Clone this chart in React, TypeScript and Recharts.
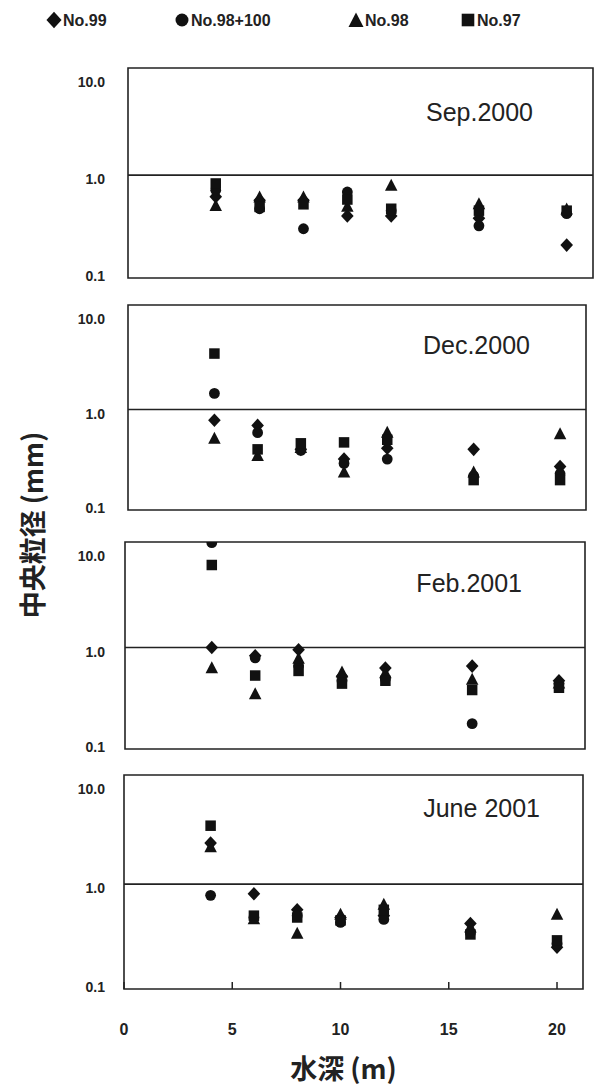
import React from 'react';
import { ScatterChart, Scatter, XAxis, YAxis, ReferenceLine, ReferenceArea, Legend } from 'recharts';

const DEPTHS = [4, 6, 8, 10, 12, 16, 20];
const STATIONS = ['No.99', 'No.98+100', 'No.98', 'No.97'];
const SHAPES = ['diamond', 'circle', 'triangle', 'square'];
const PANEL_LABELS = ['Sep.2000', 'Dec.2000', 'Feb.2001', 'June 2001'];
const Y_TICKS = [0.1, 1, 10];
const X_TICKS = [0, 5, 10, 15, 20];
const X_TITLE = '水深 (m)';
const Y_TITLE = '中央粒径 (mm)';

// Sep.2000
const sepNo99 = [0.6, 0.55, 0.55, 0.38, 0.38, 0.36, 0.19];
const sepNo98_100 = [0.7, 0.45, 0.28, 0.67, 0.43, 0.3, 0.4];
const sepNo98 = [0.49, 0.6, 0.6, 0.48, 0.79, 0.51, 0.45];
const sepNo97 = [0.82, 0.47, 0.5, 0.56, 0.45, 0.43, 0.43];

// Dec.2000
const decNo99 = [0.77, 0.68, 0.38, 0.3, 0.39, 0.38, 0.25];
const decNo98_100 = [1.48, 0.57, 0.37, 0.27, 0.3, 0.2, 0.21];
const decNo98 = [0.5, 0.33, 0.4, 0.22, 0.58, 0.22, 0.56];
const decNo97 = [3.9, 0.38, 0.44, 0.45, 0.48, 0.18, 0.18];

// Feb.2001
const febNo99 = [1.0, 0.82, 0.95, 0.5, 0.61, 0.64, 0.45];
const febNo98_100 = [12.5, 0.78, 0.65, 0.45, 0.47, 0.16, 0.42];
const febNo98 = [0.62, 0.33, 0.78, 0.56, 0.55, 0.47, 0.43];
const febNo97 = [7.3, 0.51, 0.57, 0.42, 0.45, 0.36, 0.38];

// June 2001
const junNo99 = [2.6, 0.8, 0.55, 0.46, 0.48, 0.4, 0.23];
const junNo98_100 = [0.77, 0.46, 0.48, 0.41, 0.44, 0.32, 0.25];
const junNo98 = [2.4, 0.45, 0.32, 0.5, 0.63, 0.37, 0.5];
const junNo97 = [3.9, 0.48, 0.46, 0.43, 0.55, 0.31, 0.27];

const PANEL_SERIES = [
  [sepNo99, sepNo98_100, sepNo98, sepNo97],
  [decNo99, decNo98_100, decNo98, decNo97],
  [febNo99, febNo98_100, febNo98, febNo97],
  [junNo99, junNo98_100, junNo98, junNo97],
];

const X_DOMAIN = [0, 21.2];
const Y_DOMAIN = [0.087, 12.7];
const INK = '#111';
const LATIN = '"Liberation Sans", Arial, sans-serif';
const CJK = '"Noto Sans CJK JP", "Noto Sans CJK SC", sans-serif';

const LAYOUT = [
  { top: 0, height: 290, margin: { top: 68, right: 1, bottom: 12, left: 0 }, yWidth: 128, xHeight: 0 },
  { top: 290, height: 232, margin: { top: 15, right: 8, bottom: 12, left: 0 }, yWidth: 128, xHeight: 0 },
  { top: 530, height: 231, margin: { top: 12, right: 9, bottom: 12, left: 0 }, yWidth: 125, xHeight: 0 },
  { top: 765, height: 322, margin: { top: 10, right: 11, bottom: 0, left: 0 }, yWidth: 124, xHeight: 98 },
];

const TITLE_POS = [
  { x: 533, y: 121 },
  { x: 530, y: 354 },
  { x: 522, y: 592 },
  { x: 540, y: 817 },
];

const LEGEND_X = [54, 182, 356, 468];

function drawMarker(kind: string, cx: number, cy: number, scale = 1) {
  switch (kind) {
    case 'diamond': {
      const r = 6.8 * scale;
      const w = 6.3 * scale;
      return <polygon points={`${cx},${cy - r} ${cx + w},${cy} ${cx},${cy + r} ${cx - w},${cy}`} fill={INK} />;
    }
    case 'circle':
      return <circle cx={cx} cy={cy} r={5.4 * scale} fill={INK} />;
    case 'triangle': {
      const w = 12.5 * scale;
      const h = 11.5 * scale;
      return (
        <polygon
          points={`${cx},${cy - h / 2 - 0.5} ${cx + w / 2},${cy + h / 2} ${cx - w / 2},${cy + h / 2}`}
          fill={INK}
        />
      );
    }
    default: {
      const s = 10.5 * scale;
      return <rect x={cx - s / 2} y={cy - s / 2} width={s} height={s} fill={INK} />;
    }
  }
}

function markerShape(kind: string) {
  return (props: any) => {
    const { cx, cy } = props;
    if (!Number.isFinite(cx) || !Number.isFinite(cy)) return <g />;
    return drawMarker(kind, cx, cy);
  };
}

function renderLegend(props: any) {
  const payload = [...(props.payload || [])].sort(
    (a: any, b: any) => STATIONS.indexOf(a.value) - STATIONS.indexOf(b.value)
  );
  return (
    <svg width={594} height={30} style={{ display: 'block' }}>
      {payload.map((entry: any, i: number) => {
        const cx = LEGEND_X[i];
        return (
          <g key={entry.value}>
            {drawMarker(entry.type, cx, 15, 1.2)}
            <text
              x={cx + 9}
              y={15}
              dominantBaseline="central"
              fontFamily={LATIN}
              fontWeight={700}
              fontSize={16}
              fill="#222"
            >
              {entry.value}
            </text>
          </g>
        );
      })}
    </svg>
  );
}

function Panel({ index }: { index: number }) {
  const cfg = LAYOUT[index];
  const series = PANEL_SERIES[index];
  const isLast = index === PANEL_SERIES.length - 1;
  return (
    <div style={{ position: 'absolute', left: 0, top: cfg.top }}>
      <ScatterChart width={594} height={cfg.height} margin={cfg.margin}>
        <XAxis
          type="number"
          dataKey="depth"
          domain={X_DOMAIN}
          allowDataOverflow
          ticks={X_TICKS}
          interval={0}
          height={cfg.xHeight}
          axisLine={false}
          tickSize={-7}
          tickLine={{ stroke: '#222', strokeWidth: 1.5 }}
          tickMargin={42}
          tickFormatter={(v: number) => (isLast ? String(v) : '')}
          tick={{ fill: '#222', fontSize: 16, fontWeight: 700, fontFamily: LATIN }}
          label={
            isLast
              ? {
                  value: X_TITLE,
                  position: 'insideBottom',
                  offset: 8,
                  dx: -10,
                  style: { fontFamily: CJK, fontSize: 27, fontWeight: 700, fill: '#222' },
                }
              : undefined
          }
        />
        <YAxis
          type="number"
          dataKey="value"
          scale="log"
          domain={Y_DOMAIN}
          allowDataOverflow
          ticks={Y_TICKS}
          interval={0}
          width={cfg.yWidth}
          axisLine={false}
          tickLine={false}
          tickSize={0}
          tickMargin={cfg.yWidth - 105}
          tickFormatter={(v: number) => v.toFixed(1)}
          tick={{ fill: '#222', fontSize: 14, fontWeight: 700, fontFamily: LATIN, dy: 4 }}
        />
        <ReferenceArea
          x1={X_DOMAIN[0]}
          x2={X_DOMAIN[1]}
          y1={Y_DOMAIN[0]}
          y2={Y_DOMAIN[1]}
          fill="none"
          fillOpacity={0}
          stroke="#222"
          strokeWidth={1.6}
          ifOverflow="visible"
        />
        <ReferenceLine y={1} stroke="#222" strokeWidth={1.6} />
        {series.map((vals, si) => (
          <Scatter
            key={STATIONS[si]}
            name={STATIONS[si]}
            data={DEPTHS.map((d, k) => ({ depth: d, value: vals[k] }))}
            fill={INK}
            legendType={SHAPES[si] as any}
            shape={markerShape(SHAPES[si])}
            isAnimationActive={false}
          />
        ))}
        {index === 0 && (
          <Legend
            layout="horizontal"
            verticalAlign="middle"
            align="center"
            wrapperStyle={{ top: 5, left: 0, width: 594, height: 30 }}
            content={renderLegend}
          />
        )}
      </ScatterChart>
    </div>
  );
}

export default function App() {
  return (
    <div
      style={{
        position: 'absolute',
        left: 0,
        top: 0,
        width: 594,
        height: 1087,
        background: '#fff',
        overflow: 'hidden',
      }}
    >
      {PANEL_SERIES.map((_, i) => (
        <Panel key={i} index={i} />
      ))}
      <svg
        width={594}
        height={1087}
        style={{ position: 'absolute', left: 0, top: 0, pointerEvents: 'none' }}
      >
        <text
          transform="translate(31,525) rotate(-90)"
          textAnchor="middle"
          dominantBaseline="central"
          fontFamily={CJK}
          fontWeight={700}
          fontSize={27}
          fill="#222"
        >
          {Y_TITLE}
        </text>
        {PANEL_LABELS.map((label, i) => (
          <text
            key={label}
            x={TITLE_POS[i].x}
            y={TITLE_POS[i].y}
            textAnchor="end"
            fontFamily={LATIN}
            fontSize={25}
            fill="#222"
          >
            {label}
          </text>
        ))}
      </svg>
    </div>
  );
}
